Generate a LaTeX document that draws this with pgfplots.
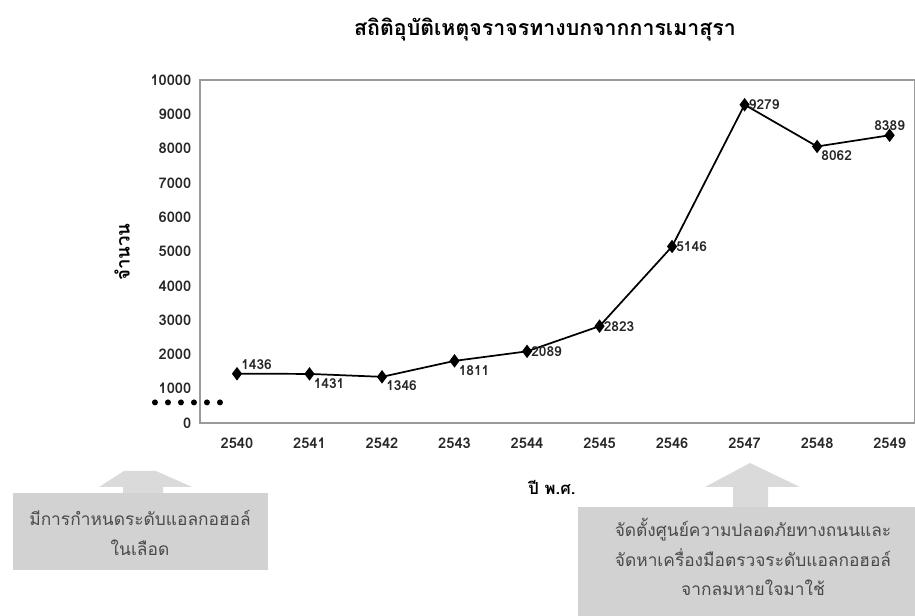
\documentclass[border=0pt]{standalone}
\usepackage{fontspec}
\setmainfont[Script=Thai]{Loma}
\usepackage{pgfplots}
\pgfplotsset{compat=1.18}
\definecolor{boxgray}{HTML}{D2D2D2}
\definecolor{arrgray}{HTML}{DADADA}
\definecolor{txtgray}{HTML}{4A4A4A}
\definecolor{framegray}{HTML}{9A9A9A}

\pgfplotsset{lbl/.style={draw=none, mark=none, forget plot, nodes near coords,
    nodes near coords style={anchor=#1, inner sep=3pt,
    font=\fontsize{10.3}{11}\selectfont\bfseries, text=black!85,
    /pgf/number format/set thousands separator={}}}}

\begin{document}
\begin{tikzpicture}[x=0.75pt,y=0.75pt]
\path[use as bounding box] (0,0) rectangle (915,615);

% annotation boxes and arrows
\fill[arrgray] (123,120) -- (123,128) -- (99,128) -- (124,144) -- (156,144) -- (192,128) -- (163,128) -- (163,120) -- cycle;
\fill[boxgray] (13,45) rectangle (268,122);
\node[align=center, text=txtgray, font=\fontsize{13}{22}\selectfont] at (140,82)
  {มีการกำหนดระดับแอลกอฮอล์\\ในเลือด};

\fill[arrgray] (733,106) -- (733,128) -- (705,128) -- (750,152) -- (800,128) -- (768,128) -- (768,106) -- cycle;
\fill[boxgray] (578,-5) rectangle (935,108);
\node[align=center, text=txtgray, font=\fontsize{13}{22.3}\selectfont] at (753,58)
  {จัดตั้งศูนย์ความปลอดภัยทางถนนและ\\จัดหาเครื่องมือตรวจระดับแอลกอฮอล์\\จากลมหายใจมาใช้};

% titles
\node[font=\fontsize{16}{18}\selectfont\bfseries] at (545,585) {สถิติอุบัติเหตุจราจรทางบกจากการเมาสุรา};
\node[font=\fontsize{12.5}{14}\selectfont\bfseries] at (552,128) {ปี พ.ศ.};
\node[font=\fontsize{14}{16}\selectfont\bfseries, rotate=90] at (122,363) {จำนวน};

\begin{axis}[
  at={(150pt,144pt)}, anchor=south west,
  scale only axis, width=536.25pt, height=257.25pt,
  xmin=2539.49, xmax=2549.35, ymin=0, ymax=10000,
  xtick={2540,2541,...,2549},
  ytick={0,1000,...,10000},
  scaled ticks=false,
  major tick length=0pt,
  axis line style={framegray, line width=0.8pt},
  /pgf/number format/assume math mode=true,
  /pgf/number format/set thousands separator={},
  tick label style={font=\fontsize{11}{12}\selectfont\bfseries, text=black!85},
  xticklabel style={yshift=-8pt},
  yticklabel style={xshift=-3pt},
  clip=false,
]
\addplot[black, line width=4.5pt, line cap=round, dash pattern=on 0pt off 9.75pt, forget plot]
  coordinates {(2538.869,600) (2539.80,600)};
\addplot[black, line width=1.3pt, mark=diamond*, mark size=4pt, mark options={solid}]
  coordinates {(2540,1436) (2541,1431) (2542,1346) (2543,1811) (2544,2089)
               (2545,2823) (2546,5146) (2547,9279) (2548,8062) (2549,8389)};
\addplot[lbl=south west] coordinates {(2540,1436)};
\addplot[lbl=north west] coordinates {(2541,1431) (2542,1346) (2543,1811) (2548,8062)};
\addplot[lbl=west] coordinates {(2544,2089) (2545,2823) (2546,5146) (2547,9279)};
\addplot[lbl=south] coordinates {(2549,8389)};
\end{axis}
\end{tikzpicture}
\end{document}
